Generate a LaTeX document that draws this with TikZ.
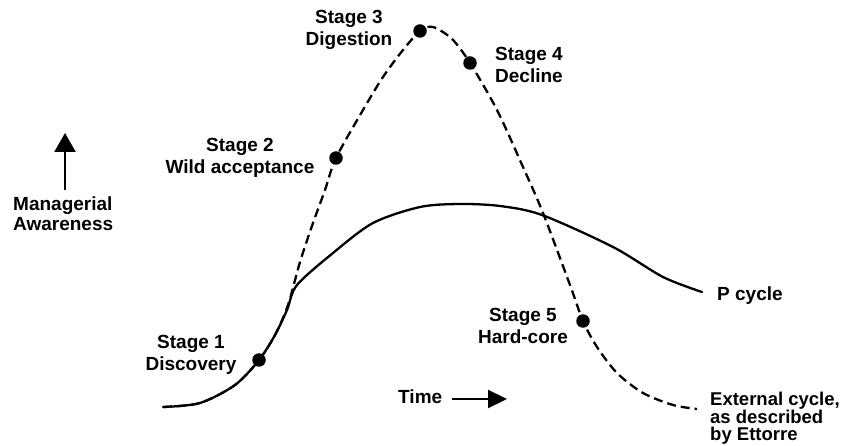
\documentclass[tikz,border=0pt]{standalone}
\usepackage{fontspec}
\setmainfont{Liberation Sans}
\usetikzlibrary{arrows.meta}
\begin{document}
\begin{tikzpicture}[x=1pt,y=-1pt,
  lbl/.style={inner sep=0pt, align=center, font=\bfseries\fontsize{19}{22.5}\selectfont},
  curve/.style={line width=2.3pt, line cap=round, line join=round},
  dashcurve/.style={line width=2.3pt, dash pattern=on 9pt off 5pt},
  stagedot/.style={circle, fill=black, inner sep=0pt, minimum size=13.5pt},
  axisarrow/.style={line width=2.2pt}]
\useasboundingbox (0,0) rectangle (860,446);
\fill[white] (0,0) rectangle (860,446);

% solid P cycle
\draw[curve] plot[smooth, tension=0.5] coordinates {
  (163,407) (200,403) (235,385) (259,360) (275,335) (287,310) (297,285)
  (333,253) (373,223) (420,207) (460,204) (500,206) (542,215)
  (613,247) (663,277) (702,292)};

% dashed external cycle
\draw[dashcurve] plot[smooth, tension=0.5] coordinates {
  (163,407) (200,403) (235,385) (259,360) (275,335) (288,305) (300,262)
  (313,223) (325,190) (336,158) (363,110) (383,77) (403,50) (420,31)
  (433,27) (452,39) (470,63) (497,110) (523,167) (543,213) (570,285)
  (583,321) (597,347) (617,373) (643,393) (673,405) (697,409)};

% stage dots
\node[stagedot] (d1) at (259,360) {};
\node[stagedot] (d2) at (336,158) {};
\node[stagedot] (d3) at (420,31) {};
\node[stagedot] (d4) at (470,63) {};
\node[stagedot] (d5) at (583,321) {};

% labels
\node[lbl, anchor=north] (s1) at (191,335) {Stage 1\\Discovery};
\node[lbl, anchor=north] (s2) at (240,138) {Stage 2\\Wild acceptance};
\node[lbl, anchor=north] (s3) at (349,10) {Stage 3\\Digestion};
\node[lbl, anchor=north] (s4) at (529,47) {Stage 4\\Decline};
\node[lbl, anchor=north] (s5) at (523,308) {Stage 5\\Hard-core};
\node[lbl, anchor=north west, align=left] (pc) at (717,287) {P cycle};
\node[lbl, anchor=north west, align=left, font=\bfseries\fontsize{18.5}{17.5}\selectfont] (ext) at (710,392) {External cycle,\\as described\\by Ettorre};
\node[lbl, anchor=north west, align=left, font=\bfseries\fontsize{19}{20}\selectfont] (ma) at (13,197) {Managerial\\Awareness};
\node[lbl, anchor=north west] (time) at (398,390) {Time};

% axis arrows
\coordinate (ua1) at (65,190);
\coordinate (ua2) at (65,133);
\draw[axisarrow, -{Triangle[length=19pt,width=21pt]}] (ua1) -- (ua2);
\coordinate (ta1) at (452,399);
\coordinate (ta2) at (507,399);
\draw[axisarrow, -{Triangle[length=19pt,width=18pt]}] (ta1) -- (ta2);
\end{tikzpicture}
\end{document}
